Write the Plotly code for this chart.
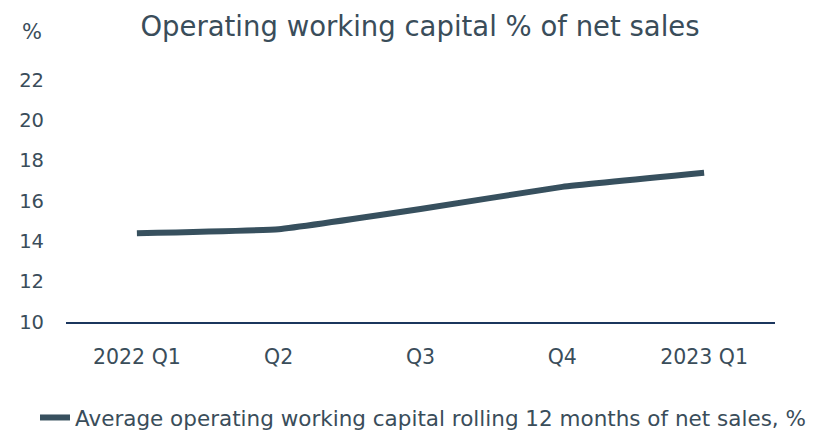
import plotly.graph_objects as go

categories = ["2022 Q1", "Q2", "Q3", "Q4", "2023 Q1"]
values = [14.4, 14.6, 15.6, 16.7, 17.4]
y_ticks = [10, 12, 14, 16, 18, 20, 22]
series_name = "Average operating working capital rolling 12 months of net sales, %"
title_text = "Operating working capital % of net sales"

text_color = "#3a4d5a"
line_color = "#37505e"
axis_color = "#1b365d"
font_family = "'DejaVu Sans', Lato, sans-serif"

fig = go.Figure()
fig.add_trace(go.Scatter(
    x=categories, y=values, mode="lines", name=series_name,
    line=dict(color=line_color, width=6, shape="spline", smoothing=0.3),
))

W, H = 814, 430
ml, mr, mt, mb = 20, 39, 80, 108
pw = W - ml - mr

fig.update_layout(
    width=W, height=H,
    margin=dict(l=ml, r=mr, t=mt, b=mb, autoexpand=False),
    paper_bgcolor="white", plot_bgcolor="white",
    font=dict(family=font_family, color=text_color, size=18),
    title=dict(text=title_text, x=420 / W, xanchor="center", y=1 - 26 / H, yanchor="middle",
               font=dict(size=27.5, color=text_color, family=font_family)),
    showlegend=True,
    legend=dict(orientation="h", x=(35 - ml) / pw, xanchor="left",
                yref="container", y=(H - 397) / H, yanchor="top",
                font=dict(size=21.5, color=text_color), itemwidth=30),
    xaxis=dict(type="category", domain=[(66 - ml) / pw, 1], range=[-0.5, 4.5],
               showgrid=False, showline=True, linecolor=axis_color, automargin=False,
               linewidth=1.5, ticks="", ticklabelstandoff=16, tickfont=dict(size=20.5)),
    yaxis=dict(range=[10, 22], tickvals=y_ticks, showgrid=False, zeroline=False, automargin=False,
               showline=False, ticks="", ticklabelstandoff=21, tickfont=dict(size=19.5)),
    annotations=[dict(text="%", xref="paper", yref="paper", x=(32 - ml) / pw, y=(322 - 32) / 242,
                      xanchor="center", yanchor="middle", showarrow=False,
                      font=dict(size=21, color=text_color))],
)

fig.write_html("out.html")
